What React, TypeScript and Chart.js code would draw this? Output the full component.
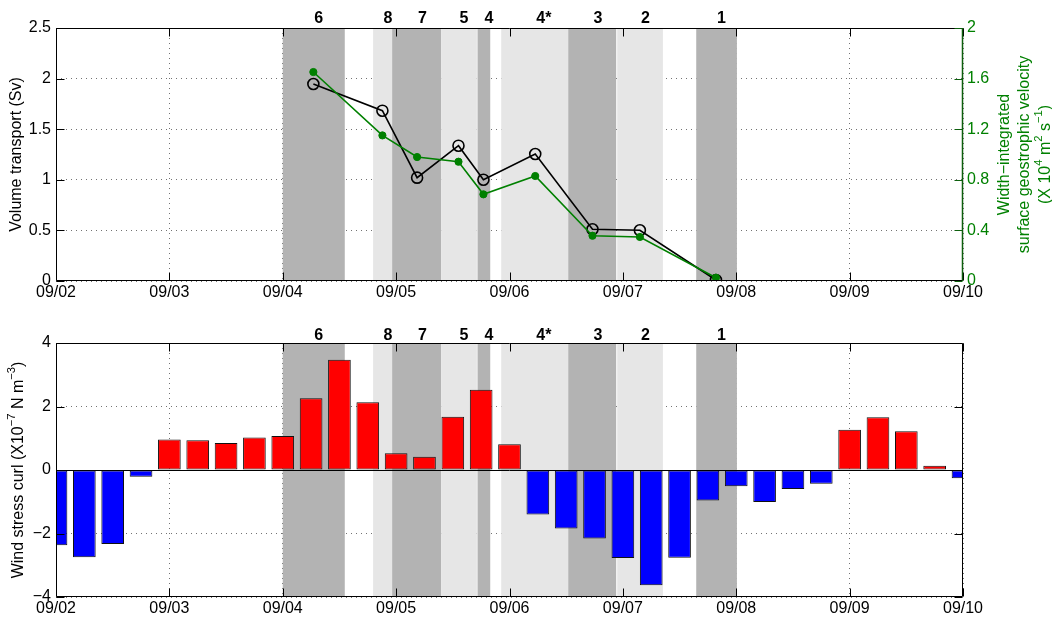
import React, { useEffect, useRef } from "react";
import { Chart, registerables } from "chart.js";
Chart.register(...registerables);

// ---------- data ----------
// time axis in days of September (2 = 09/02 00:00)
const dayTickLabels = ["09/02", "09/03", "09/04", "09/05", "09/06", "09/07", "09/08", "09/09", "09/10"];

const sectionLabels = ["6", "8", "7", "5", "4", "4*", "3", "2", "1"];
const sectionTimes = [4.27, 4.879, 5.185, 5.55, 5.77, 6.227, 6.732, 7.15, 7.821];
const volumeTransport = [1.947, 1.683, 1.021, 1.337, 1.001, 1.255, 0.511, 0.501, 0.01];
const geostrophicVelocity = [1.652, 1.151, 0.98, 0.943, 0.685, 0.83, 0.358, 0.348, 0.026];

const bandStarts = [4.0, 4.797, 4.965, 5.397, 5.718, 5.927, 6.518, 6.95, 7.647];
const bandEnds = [4.547, 4.965, 5.397, 5.712, 5.83, 6.518, 6.941, 7.353, 8.006];
const bandShades = ["dark", "light", "dark", "light", "dark", "light", "dark", "light", "dark"];

const curlTimes = [
  2, 2.25, 2.5, 2.75, 3, 3.25, 3.5, 3.75, 4, 4.25, 4.5, 4.75, 5, 5.25, 5.5, 5.75, 6,
  6.25, 6.5, 6.75, 7, 7.25, 7.5, 7.75, 8, 8.25, 8.5, 8.75, 9, 9.25, 9.5, 9.75, 10,
];
const windStressCurl = [
  -2.37, -2.75, -2.33, -0.21, 0.96, 0.94, 0.85, 1.02, 1.07, 2.26, 3.47, 2.13, 0.53, 0.42, 1.68, 2.53, 0.81,
  -1.4, -1.84, -2.16, -2.77, -3.63, -2.76, -0.96, -0.51, -1.01, -0.6, -0.43, 1.27, 1.66, 1.22, 0.13, -0.26,
];

// ---------- styles ----------
const FONT = '"Liberation Sans", Arial, Helvetica, sans-serif';
const GREEN = "#008000";
const AXIS_GREEN = "#0d5f0d";
const DARK_BAND = "#b3b3b3";
const LIGHT_BAND = "#e6e6e6";
const GRID = "rgba(0,0,0,0.55)";

type Part = { t: string; sup?: boolean };

function drawRotated(ctx: CanvasRenderingContext2D, parts: Part[], x: number, y: number, size: number, color: string) {
  ctx.save();
  ctx.translate(x, y);
  ctx.rotate(-Math.PI / 2);
  ctx.fillStyle = color;
  ctx.textBaseline = "middle";
  ctx.textAlign = "left";
  const supSize = size * 0.7;
  const widths = parts.map((p) => {
    ctx.font = `${p.sup ? supSize : size}px ${FONT}`;
    return ctx.measureText(p.t).width;
  });
  const total = widths.reduce((a, b) => a + b, 0);
  let cx = -total / 2;
  parts.forEach((p, i) => {
    ctx.font = `${p.sup ? supSize : size}px ${FONT}`;
    ctx.fillText(p.t, cx, p.sup ? -size * 0.42 : 0);
    cx += widths[i];
  });
  ctx.restore();
}

function makeOverlay(kind: "top" | "bottom") {
  return {
    id: "overlay_" + kind,
    beforeDatasetsDraw(chart: any) {
      const { ctx, chartArea: a, scales } = chart;
      const xs = scales.x;
      ctx.save();
      ctx.beginPath();
      ctx.rect(a.left, a.top, a.right - a.left, a.bottom - a.top);
      ctx.clip();
      bandStarts.forEach((s, i) => {
        const x0 = xs.getPixelForValue(s);
        const x1 = xs.getPixelForValue(bandEnds[i]);
        ctx.fillStyle = bandShades[i] === "dark" ? DARK_BAND : LIGHT_BAND;
        ctx.fillRect(x0, a.top, x1 - x0, a.bottom - a.top);
      });
      ctx.restore();
    },
    afterDatasetsDraw(chart: any) {
      const { ctx, chartArea: a, scales } = chart;
      const xs = scales.x;
      const ys = scales.y;
      const TL = 8;
      ctx.save();
      ctx.lineWidth = 1;
      if (kind === "bottom") {
        const y0 = Math.round(ys.getPixelForValue(0)) + 0.5;
        ctx.strokeStyle = "#000";
        ctx.beginPath();
        ctx.moveTo(a.left, y0);
        ctx.lineTo(a.right, y0);
        ctx.stroke();
      }
      const L = Math.round(a.left) + 0.5;
      const R = Math.round(a.right) - 0.5;
      const T = Math.round(a.top) + 0.5;
      const B = Math.round(a.bottom) - 0.5;
      // box
      ctx.strokeStyle = "#000";
      ctx.beginPath();
      ctx.moveTo(R, T);
      ctx.lineTo(L, T);
      ctx.lineTo(L, B);
      ctx.lineTo(R, B);
      if (kind === "bottom") ctx.lineTo(R, T);
      ctx.stroke();
      // x ticks (bottom and top, inward)
      xs.ticks.forEach((t: any) => {
        const px = Math.round(xs.getPixelForValue(t.value)) + 0.5;
        ctx.beginPath();
        ctx.moveTo(px, B);
        ctx.lineTo(px, B - TL);
        ctx.moveTo(px, T);
        ctx.lineTo(px, T + TL);
        ctx.stroke();
      });
      // left y ticks
      ys.ticks.forEach((t: any) => {
        const py = Math.round(ys.getPixelForValue(t.value)) + 0.5;
        ctx.beginPath();
        ctx.moveTo(L, py);
        ctx.lineTo(L + TL, py);
        if (kind === "bottom") {
          ctx.moveTo(R, py);
          ctx.lineTo(R - TL, py);
        }
        ctx.stroke();
      });
      if (kind === "top") {
        const y2 = scales.y2;
        ctx.strokeStyle = AXIS_GREEN;
        ctx.lineWidth = 1.5;
        ctx.beginPath();
        ctx.moveTo(R, T - 0.5);
        ctx.lineTo(R, B + 0.5);
        ctx.stroke();
        ctx.lineWidth = 1;
        y2.ticks.forEach((t: any) => {
          const py = Math.round(y2.getPixelForValue(t.value)) + 0.5;
          ctx.beginPath();
          ctx.moveTo(R, py);
          ctx.lineTo(R - TL, py);
          ctx.stroke();
        });
      }
      // section labels
      ctx.fillStyle = "#000";
      ctx.font = `bold 16px ${FONT}`;
      ctx.textAlign = "left";
      ctx.textBaseline = "middle";
      const ly = kind === "top" ? 19 : 25.5;
      sectionLabels.forEach((lab, i) => {
        ctx.fillText(lab, xs.getPixelForValue(sectionTimes[i]) + 1, ly);
      });
      // axis titles
      const cy = (a.top + a.bottom) / 2;
      if (kind === "top") {
        drawRotated(ctx, [{ t: "Volume transport (Sv)" }], 17, cy, 16, "#000");
        drawRotated(ctx, [{ t: "Width\u2212integrated" }], 1005, cy, 16, GREEN);
        drawRotated(ctx, [{ t: "surface geostrophic velocity" }], 1025, cy, 16, GREEN);
        drawRotated(
          ctx,
          [
            { t: "(X 10" },
            { t: "4", sup: true },
            { t: " m" },
            { t: "2", sup: true },
            { t: " s" },
            { t: "\u22121", sup: true },
            { t: ")" },
          ],
          1046,
          cy,
          16,
          GREEN
        );
      } else {
        drawRotated(
          ctx,
          [
            { t: "Wind stress curl (X10" },
            { t: "\u22127", sup: true },
            { t: " N m" },
            { t: "\u22123", sup: true },
            { t: ")" },
          ],
          19,
          cy,
          16,
          "#000"
        );
      }
      ctx.restore();
    },
  };
}

const tickFont = { family: FONT, size: 16 };
const fmt = (v: any) => {
  const n = Math.round(Number(v) * 10) / 10;
  return String(n).replace("-", "\u2212");
};
const dayLabel = (v: any) => dayTickLabels[Math.round(Number(v) - 2)] ?? "";

export default function App() {
  const topRef = useRef<HTMLCanvasElement>(null);
  const botRef = useRef<HTMLCanvasElement>(null);

  useEffect(() => {
    document.body.style.margin = "0";
    const xCommon = (h: number) => ({
      type: "linear" as const,
      min: 2,
      max: 10,
      offset: false,
      ticks: { stepSize: 1, autoSkip: false, maxRotation: 0, padding: 2, color: "#000", font: tickFont, callback: dayLabel },
      grid: { color: GRID, lineWidth: 1, drawTicks: false, offset: false },
      border: { display: false, dash: [1, 4] },
      afterFit: (s: any) => {
        s.height = h;
      },
    });

    const c1 = new Chart(topRef.current!, {
      type: "line",
      data: {
        datasets: [
          {
            label: "Width-integrated surface geostrophic velocity",
            data: sectionTimes.map((t, i) => ({ x: t, y: geostrophicVelocity[i] })),
            yAxisID: "y2",
            borderColor: GREEN,
            backgroundColor: GREEN,
            borderWidth: 1.6,
            pointRadius: 3.6,
            pointBackgroundColor: GREEN,
            pointBorderColor: GREEN,
            pointBorderWidth: 1,
            tension: 0,
          },
          {
            label: "Volume transport",
            data: sectionTimes.map((t, i) => ({ x: t, y: volumeTransport[i] })),
            yAxisID: "y",
            borderColor: "#000",
            backgroundColor: "rgba(0,0,0,0)",
            borderWidth: 1.6,
            pointRadius: 5.5,
            pointBackgroundColor: "rgba(0,0,0,0)",
            pointBorderColor: "#000",
            pointBorderWidth: 1.6,
            tension: 0,
          },
        ],
      },
      options: {
        animation: false,
        responsive: true,
        maintainAspectRatio: false,
        layout: { padding: { top: 28, left: 0, right: 0, bottom: 0 } },
        plugins: { legend: { display: false }, tooltip: { enabled: false } },
        scales: {
          x: xCommon(29) as any,
          y: {
            position: "left",
            min: 0,
            max: 2.5,
            ticks: { stepSize: 0.5, padding: 5, color: "#000", font: tickFont, callback: fmt },
            grid: { color: GRID, lineWidth: 1, drawTicks: false },
            border: { display: false, dash: [1, 4] },
            afterFit: (s: any) => {
              s.width = 56;
            },
          },
          y2: {
            position: "right",
            min: 0,
            max: 2,
            ticks: { stepSize: 0.4, padding: 4, color: GREEN, font: tickFont, callback: fmt },
            grid: { display: false, drawTicks: false },
            border: { display: false },
            afterFit: (s: any) => {
              s.width = 89;
            },
          },
        },
      },
      plugins: [makeOverlay("top")],
    });

    const c2 = new Chart(botRef.current!, {
      type: "bar",
      data: {
        datasets: [
          {
            label: "Wind stress curl",
            data: curlTimes.map((t, i) => ({ x: t, y: windStressCurl[i] })),
            backgroundColor: windStressCurl.map((v) => (v >= 0 ? "#ff0000" : "#0000ff")),
            borderColor: "#111",
            borderWidth: 1,
            borderSkipped: false,
            barPercentage: 0.8,
            categoryPercentage: 1,
            clip: 0,
          } as any,
        ],
      },
      options: {
        animation: false,
        responsive: true,
        maintainAspectRatio: false,
        layout: { padding: { top: 33, left: 0, right: 89, bottom: 0 } },
        plugins: { legend: { display: false }, tooltip: { enabled: false } },
        scales: {
          x: xCommon(20) as any,
          y: {
            position: "left",
            min: -4,
            max: 4,
            ticks: { stepSize: 2, padding: 5, color: "#000", font: tickFont, callback: fmt },
            grid: { color: GRID, lineWidth: 1, drawTicks: false },
            border: { display: false, dash: [1, 4] },
            afterFit: (s: any) => {
              s.width = 56;
            },
          },
        },
      },
      plugins: [makeOverlay("bottom")],
    });

    return () => {
      c1.destroy();
      c2.destroy();
    };
  }, []);

  return (
    <div style={{ position: "relative", width: 1052, height: 617, background: "#fff" }}>
      <div style={{ position: "absolute", left: 0, top: 0, width: 1052, height: 310 }}>
        <canvas ref={topRef} />
      </div>
      <div style={{ position: "absolute", left: 0, top: 310, width: 1052, height: 307 }}>
        <canvas ref={botRef} />
      </div>
    </div>
  );
}
